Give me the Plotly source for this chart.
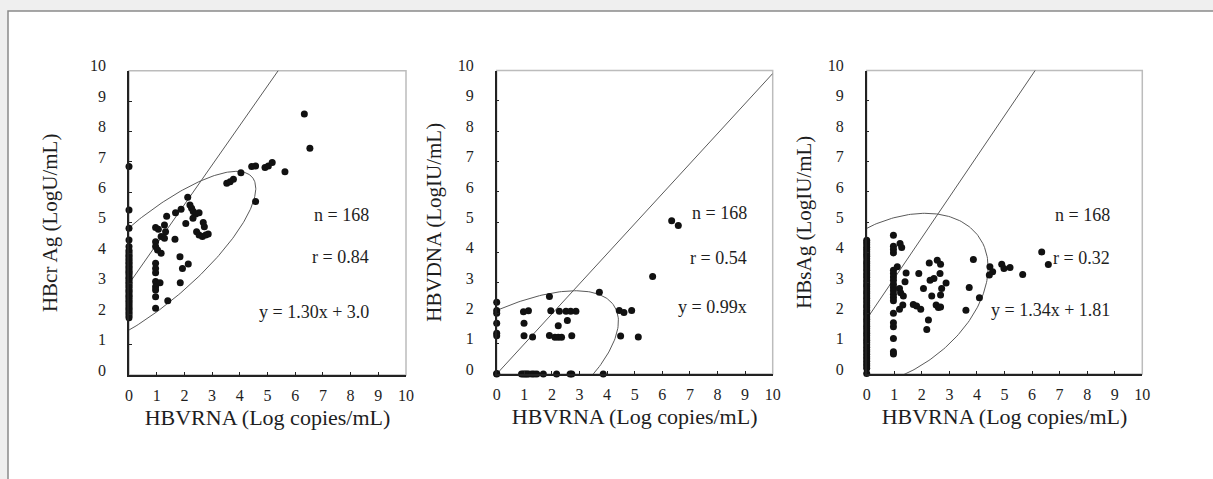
import numpy as np
import plotly.graph_objects as go

W, H = 1213, 479
FONT = "Liberation Serif"
TXT = "#1e1e1e"

tick_vals = list(range(0, 11))
tick_text = [str(v) for v in tick_vals]
x_title = "HBVRNA (Log copies/mL)"
y_titles = ["HBcr Ag (LogU/mL)", "HBVDNA (LogIU/mL)", "HBsAg (LogIU/mL)"]

# ---------------- Panel 1: HBcrAg vs HBV RNA ----------------
p1_x0_y = [6.85, 5.42, 4.82, 4.44, 4.22, 4.1, 4.03, 3.95, 3.9, 3.83, 3.77, 3.7, 3.66,
           3.58, 3.53, 3.47, 3.4, 3.36, 3.3, 3.22, 3.18, 3.11, 3.05, 3.0, 2.93, 2.88,
           2.8, 2.76, 2.7, 2.63, 2.58, 2.52, 2.45, 2.4, 2.33, 2.27, 2.2, 2.15, 2.08,
           2.02, 1.95, 1.88]
p1_x = [0.96, 1.06, 1.28, 1.32, 1.16, 1.28, 0.96, 0.96, 1.03, 1.16, 0.96, 0.96, 0.96,
        0.96, 1.12, 0.96, 0.96, 0.96, 0.96, 1.40, 1.66, 1.36, 1.68, 1.88, 2.12, 2.05,
        1.84, 1.93, 2.14, 1.85, 2.20, 2.26, 2.32, 2.41, 2.53, 2.31, 2.68, 2.72, 2.44,
        2.53, 2.65, 2.77, 2.86, 3.53, 3.65, 3.77, 4.04, 4.43, 4.57, 4.91, 5.03, 5.17,
        5.63, 4.57, 6.33, 6.53]
p1_y = [4.85, 4.79, 4.93, 4.71, 4.55, 4.49, 4.38, 4.22, 4.11, 4.00, 3.67, 3.50, 3.36,
        3.07, 3.03, 2.90, 2.79, 2.57, 2.19, 2.44, 4.46, 5.22, 5.33, 5.45, 5.84, 4.98,
        3.89, 3.50, 3.65, 3.03, 5.59, 5.48, 5.37, 5.29, 5.33, 5.15, 5.01, 4.87, 4.71,
        4.60, 4.55, 4.60, 4.63, 6.30, 6.35, 6.43, 6.65, 6.85, 6.87, 6.82, 6.87, 6.98,
        6.68, 5.70, 8.58, 7.45]

# ---------------- Panel 2: HBV DNA vs HBV RNA ----------------
p2_x = [0, 0, 0, 0, 0, 0, 0, 0,
        0.90, 0.97, 1.03, 1.09, 1.15, 1.27, 1.35, 1.45, 1.69, 2.17, 2.66, 2.72, 3.86,
        0.97, 1.15, 1.96, 2.27, 2.51, 2.68, 2.87, 4.44, 4.61, 4.89,
        0.99, 1.30, 1.91, 2.11, 2.23, 2.35, 2.72, 4.49, 5.13,
        0.99, 2.23, 2.56, 1.91, 3.72, 5.65, 6.34, 6.58]
p2_y = [2.36, 2.09, 2.00, 1.67, 1.34, 1.26, 0.02, 0.0,
        0.0, 0.0, 0.0, 0.0, 0.0, 0.0, 0.0, 0.0, 0.0, 0.0, 0.0, 0.0, 0.0,
        2.05, 2.08, 2.08, 2.07, 2.07, 2.07, 2.07, 2.09, 2.03, 2.09,
        1.26, 1.22, 1.27, 1.21, 1.21, 1.21, 1.26, 1.25, 1.22,
        1.67, 1.59, 1.76, 2.55, 2.69, 3.21, 5.05, 4.89]

# ---------------- Panel 3: HBsAg vs HBV RNA ----------------
p3_x0_y = [4.41, 4.33, 4.26, 4.18, 4.1, 4.03, 3.95, 3.88, 3.8, 3.71, 3.64, 3.57, 3.49,
           3.42, 3.33, 3.26, 3.19, 3.1, 3.03, 2.95, 2.88, 2.8, 2.72, 2.65, 2.57, 2.5,
           2.41, 2.34, 2.26, 2.19, 2.1, 2.03, 1.96, 1.88, 1.8, 1.73, 1.65, 1.57, 1.5,
           1.42, 1.34, 1.27, 1.19, 1.11, 1.04, 0.96, 0.88, 0.8, 0.73, 0.65, 0.57, 0.5,
           0.42, 0.34, 0.27, 0.19, 0.02]
p3_x = [0.97, 0.97, 0.97, 0.97, 0.97, 0.97, 0.97, 0.97, 0.97, 0.97, 0.97, 0.97, 0.97,
        0.97, 0.97, 0.97, 0.97, 0.97, 0.97, 0.97,
        1.21, 1.27, 1.19, 1.23, 1.33, 1.31, 1.19, 1.39, 1.11,
        1.43, 1.89, 1.69, 1.81, 1.96, 2.06, 2.24, 2.18, 2.27, 2.56, 2.68, 2.30, 2.44,
        2.66, 2.88, 2.72, 2.36, 2.68, 2.52, 2.60, 2.68, 3.87, 3.72, 4.09, 3.60, 4.47,
        4.57, 4.45, 4.90, 4.98, 5.20, 5.66, 6.35, 6.59]
p3_y = [4.57, 4.21, 4.10, 3.99, 3.42, 3.31, 3.20, 3.09, 2.96, 2.85, 2.74, 2.63, 2.52,
        2.41, 2.00, 1.69, 1.56, 1.17, 0.73, 0.66,
        4.30, 4.17, 2.82, 2.68, 2.57, 2.27, 2.13, 3.04, 3.53,
        3.33, 3.31, 2.29, 2.24, 2.13, 2.82, 1.78, 1.47, 3.66, 3.75, 3.62, 3.09, 3.15,
        3.31, 3.00, 2.82, 2.57, 2.60, 2.27, 2.19, 2.21, 3.77, 2.85, 2.51, 2.10, 3.53,
        3.37, 3.26, 3.62, 3.48, 3.51, 3.28, 4.02, 3.61]

# regression lines (slope, intercept) and annotation texts
slopes = [1.30, 0.99, 1.34]
intercepts = [3.0, 0.0, 1.81]
n_texts = ["n = 168", "n = 168", "n = 168"]
r_texts = ["r = 0.84", "r = 0.54", "r = 0.32"]
eq_texts = ["y = 1.30x + 3.0", "y = 0.99x", "y = 1.34x + 1.81"]

# confidence ellipses: centre x, centre y, semi-axis a, semi-axis b, angle (deg)
ell_cx = [0.88, -0.48, 0.74]
ell_cy = [3.73, -0.42, 2.42]
ell_a = [4.52, 2.08, 3.95]
ell_b = [1.42, 5.44, 2.47]
ell_ang = [37.3, 118.3, 28.5]


def ellipse_xy(cx, cy, a, b, ang):
    t = np.linspace(0, 2 * np.pi, 300)
    th = np.radians(ang)
    xs = cx + a * np.cos(t) * np.cos(th) - b * np.sin(t) * np.sin(th)
    ys = cy + a * np.cos(t) * np.sin(th) + b * np.sin(t) * np.cos(th)
    return xs, ys


panels = [
    dict(xs=[0] * len(p1_x0_y) + p1_x, ys=p1_x0_y + p1_y,
         dom=(129, 406), ydom=(70.7, 375), ann_x=8.75, ann_y=[5.26, 3.88, 2.07], st=27),
    dict(xs=p2_x, ys=p2_y,
         dom=(496.7, 772.7), ydom=(70.5, 374), ann_x=9.15, ann_y=[5.3, 3.82, 2.2], st=10),
    dict(xs=[0] * len(p3_x0_y) + p3_x, ys=p3_x0_y + p3_y,
         dom=(866.7, 1142.3), ydom=(70.5, 374), ann_x=8.9, ann_y=[5.23, 3.82, 2.1], st=10),
]

fig = go.Figure()
shapes = [dict(type="rect", xref="paper", yref="paper", x0=8 / W, x1=1.05, y0=-0.05,
               y1=1 - 11 / H, fillcolor="white", line=dict(color="#8a8a8a", width=1.5),
               layer="below")]
annotations = []
for i, p in enumerate(panels):
    k = "" if i == 0 else str(i + 1)
    xa, ya = "x" + k, "y" + k
    m, b = slopes[i], intercepts[i]
    lx = np.array([0.0, 10.0])
    fig.add_trace(go.Scatter(x=lx, y=m * lx + b, mode="lines", xaxis=xa, yaxis=ya,
                             line=dict(color="#5a5a5a", width=1), showlegend=False,
                             hoverinfo="skip"))
    ex, ey = ellipse_xy(ell_cx[i], ell_cy[i], ell_a[i], ell_b[i], ell_ang[i])
    fig.add_trace(go.Scatter(x=ex, y=ey, mode="lines", xaxis=xa, yaxis=ya,
                             line=dict(color="#5a5a5a", width=1), showlegend=False,
                             hoverinfo="skip"))
    fig.add_trace(go.Scatter(x=p["xs"], y=p["ys"], mode="markers", xaxis=xa, yaxis=ya,
                             marker=dict(color="#111111", size=7), cliponaxis=False,
                             showlegend=False))
    for t, yy in zip([n_texts[i], r_texts[i], eq_texts[i]], p["ann_y"]):
        annotations.append(dict(x=p["ann_x"], y=yy, xref=xa, yref=ya, text=t,
                                showarrow=False, xanchor="right", yanchor="middle",
                                font=dict(family=FONT, size=18, color=TXT)))
    shapes.append(dict(type="rect", xref=xa + " domain", yref=ya + " domain", x0=0, x1=1,
                       y0=0, y1=1, line=dict(color="#bcbcbc", width=1.5),
                       fillcolor="white", layer="below"))
    axis_common = dict(range=[0, 10], tickvals=tick_vals, ticktext=tick_text,
                       showline=True, linecolor="#222222", linewidth=1.5, ticks="inside",
                       ticklen=3, tickwidth=1, tickcolor="#222222", showgrid=False,
                       zeroline=False, automargin=False,
                       tickfont=dict(family=FONT, size=16, color=TXT))
    fig.update_layout(**{
        ("xaxis" + k): dict(axis_common, domain=[p["dom"][0] / W, p["dom"][1] / W],
                            anchor=ya, ticklabelstandoff=5,
                            title=dict(text=x_title, standoff=7,
                                       font=dict(family=FONT, size=22, color=TXT))),
        ("yaxis" + k): dict(axis_common,
                            domain=[1 - p["ydom"][1] / H, 1 - p["ydom"][0] / H],
                            anchor=xa, ticklabelstandoff=18, ticklabelshift=-5,
                            title=dict(text=y_titles[i], standoff=p["st"],
                                       font=dict(family=FONT, size=21, color=TXT))),
    })

fig.update_layout(width=W, height=H, margin=dict(l=0, r=0, t=0, b=0, pad=0),
                  autosize=False,
                  paper_bgcolor="#efefef", plot_bgcolor="rgba(0,0,0,0)",
                  shapes=shapes, annotations=annotations, showlegend=False)
fig.write_html("out.html", config={"displayModeBar": False, "responsive": False},
               post_script="document.body.style.margin='0';"
                           "document.documentElement.style.overflow='hidden';")
